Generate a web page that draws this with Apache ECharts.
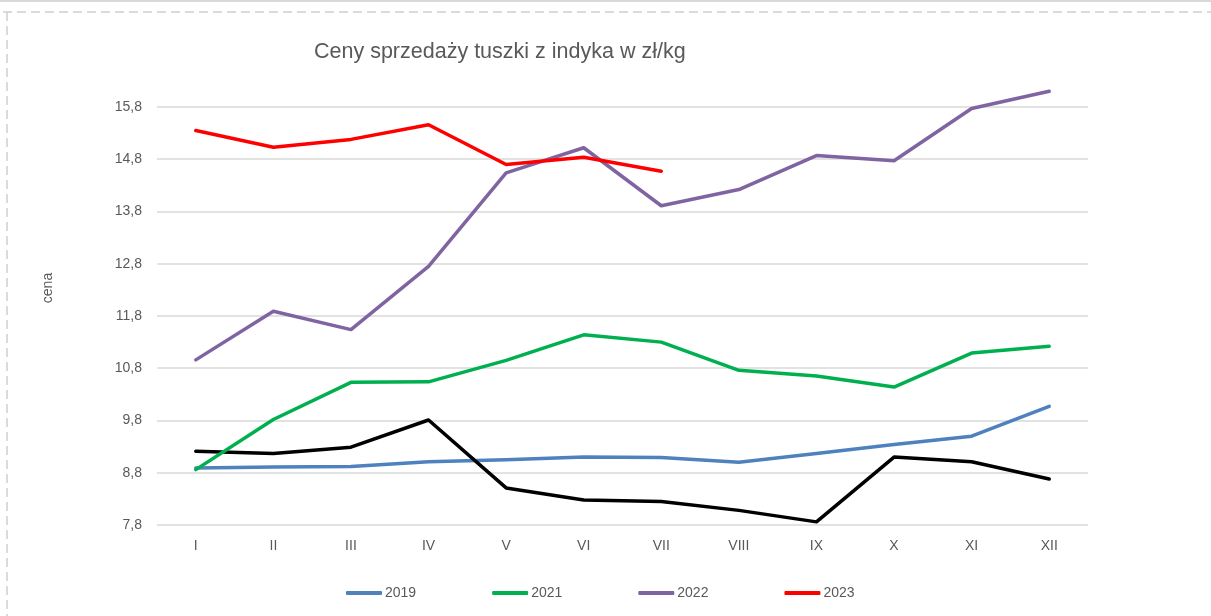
<!DOCTYPE html>
<html><head><meta charset="utf-8">
<script src="https://cdn.jsdelivr.net/npm/echarts@6/dist/echarts.min.js"></script>
<style>html,body{margin:0;padding:0;background:#fff}#c{width:1211px;height:616px}</style>
</head><body><div id="c"></div>
<script>
const months = ['I','II','III','IV','V','VI','VII','VIII','IX','X','XI','XII'];
const yTicks = [7.8, 8.8, 9.8, 10.8, 11.8, 12.8, 13.8, 14.8, 15.8];
const s2019 = [8.89, 8.91, 8.92, 9.01, 9.05, 9.10, 9.09, 9.00, 9.17, 9.34, 9.50, 10.07];
const s2020 = [9.21, 9.17, 9.29, 9.81, 8.51, 8.28, 8.25, 8.08, 7.86, 9.10, 9.01, 8.68];
const s2021 = [8.86, 9.82, 10.53, 10.54, 10.95, 11.44, 11.30, 10.76, 10.65, 10.44, 11.09, 11.22];
const s2022 = [10.96, 11.89, 11.54, 12.75, 14.54, 15.02, 13.91, 14.22, 14.87, 14.77, 15.77, 16.10];
const s2023 = [15.35, 15.03, 15.18, 15.46, 14.70, 14.84, 14.57];

const font = "'Liberation Sans', Arial, sans-serif";
const gray = '#595959';
function ser(name, data, color) {
  return { name, type: 'line', data, symbol: 'none', clip: false,
    lineStyle: { color, width: 3.5, cap: 'round', join: 'round' }, itemStyle: { color } };
}
const chart = echarts.init(document.getElementById('c'), null, { renderer: 'canvas' });
chart.setOption({
  animation: false,
  backgroundColor: '#fff',
  title: { text: 'Ceny sprzedaży tuszki z indyka w zł/kg', left: 309, top: 36,
    textStyle: { fontFamily: font, fontSize: 21.5, fontWeight: 'normal', color: gray } },
  grid: { left: 157, right: 123, top: 107, bottom: 91 },
  xAxis: { type: 'category', data: months, boundaryGap: true,
    axisLine: { show: false }, axisTick: { show: false },
    axisLabel: { color: gray, fontFamily: font, fontSize: 14, margin: 14 } },
  yAxis: { type: 'value', min: yTicks[0], max: yTicks[yTicks.length - 1], interval: 1,
    axisLine: { show: false }, axisTick: { show: false },
    splitLine: { lineStyle: { color: '#d9d9d9', width: 1.5 } },
    axisLabel: { color: gray, fontFamily: font, fontSize: 14, margin: 15,
      formatter: v => v.toFixed(1).replace('.', ',') } },
  legend: { bottom: 11, left: 341, itemGap: 76, itemWidth: 36, itemHeight: 4, icon: 'roundRect',
    data: ['2019', '2021', '2022', '2023'],
    textStyle: { color: gray, fontFamily: font, fontSize: 14, padding: [0, 0, 0, -2] } },
  graphic: [
    { type: 'line', shape: { x1: 0, y1: 1, x2: 1211, y2: 1 }, style: { stroke: '#d9d9d9', lineWidth: 2 } },
    { type: 'line', shape: { x1: 3, y1: 12, x2: 1211, y2: 12 }, style: { stroke: '#d0d0d0', lineWidth: 1.5, lineDash: [9, 5] } },
    { type: 'line', shape: { x1: 7, y1: 12, x2: 7, y2: 616 }, style: { stroke: '#d0d0d0', lineWidth: 1.5, lineDash: [9, 5] } },
    { type: 'text', x: 48, y: 288, rotation: Math.PI / 2,
      style: { text: 'cena', fill: gray, font: "14px 'Liberation Sans', Arial, sans-serif", textAlign: 'center', textVerticalAlign: 'middle' } }
  ],
  series: [
    ser('2019', s2019, '#4F81BD'),
    ser('2020', s2020, '#000000'),
    ser('2021', s2021, '#00B050'),
    ser('2022', s2022, '#8064A2'),
    ser('2023', s2023, '#FF0000')
  ]
});
</script></body></html>
